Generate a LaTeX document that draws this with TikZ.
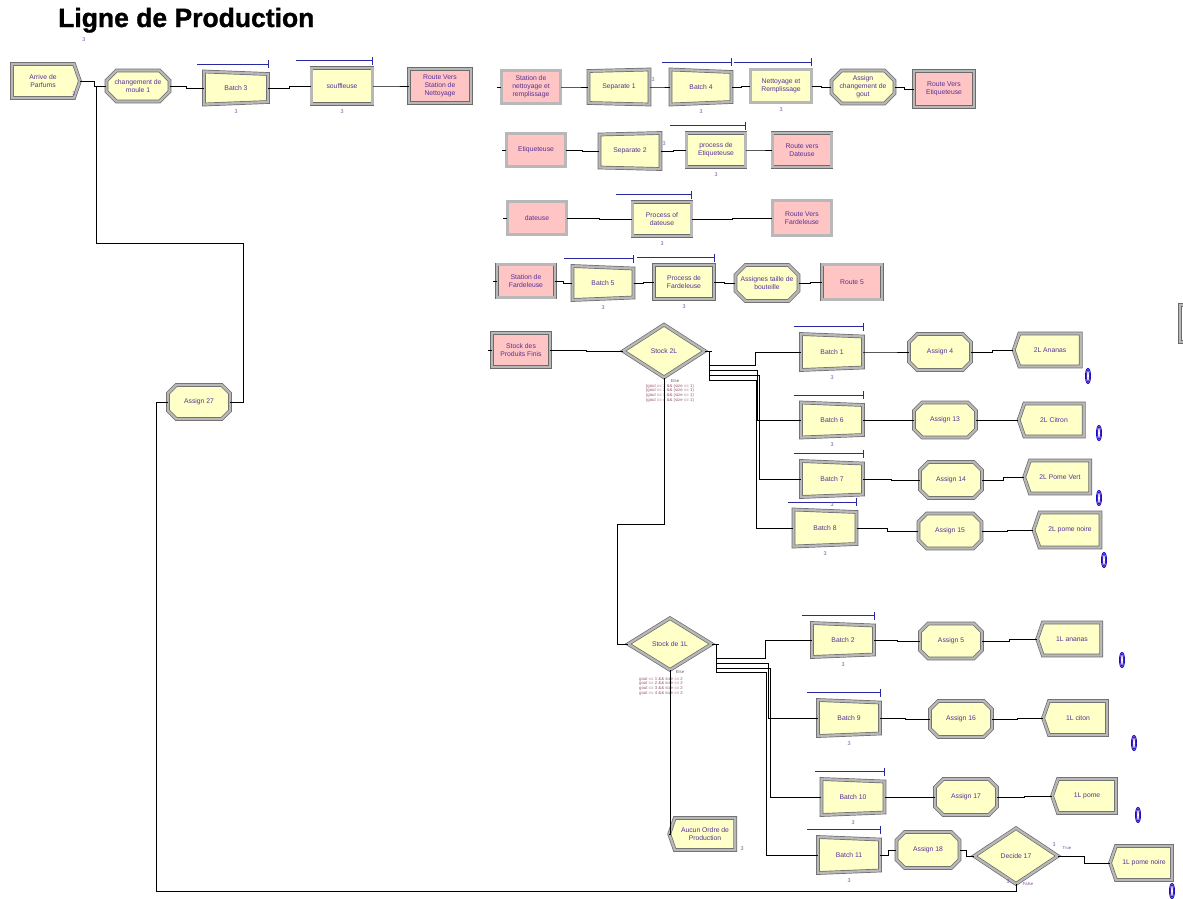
\documentclass[tikz,border=0pt]{standalone}
\usepackage{fontspec}
\setmainfont{Liberation Sans}
\newfontfamily\titlefont{Liberation Sans}[BoldFeatures={FakeBold=1.2}]
\usetikzlibrary{calc,shapes.geometric,shapes.misc,shapes.symbols}

\definecolor{yel}{RGB}{255,255,200}
\definecolor{rose}{RGB}{255,196,196}
\definecolor{lbltext}{RGB}{88,48,150}
\definecolor{cntcol}{RGB}{130,80,170}
\definecolor{qblue}{RGB}{40,40,160}
\definecolor{condcol}{RGB}{150,85,110}

\newcommand\lblfont{\fontsize{6.8}{8}\selectfont}
\newcommand\cntfont{\fontsize{5.4}{6}\selectfont}
\newcommand\condfont{\fontsize{4.3}{4.7}\selectfont}

\tikzset{
  frame/.style={draw=black!58, double=black!28, line width=0.7pt, double distance=2.3pt},
  lbl/.style={font=\lblfont, text=lbltext, align=center, inner sep=0pt},
  box/.style 2 args={minimum width=#1pt, minimum height=#2pt},
  proc/.style={rectangle, frame, fill=yel, lbl},
  stat/.style={rectangle, frame, fill=rose, lbl},
  asgn/.style={chamfered rectangle, chamfered rectangle xsep=5pt, chamfered rectangle ysep=5pt, frame, fill=yel, lbl},
  crt/.style={signal, signal to=east, signal pointer angle=142, frame, fill=yel, lbl},
  dsp/.style={signal, signal to=west, signal pointer angle=142, frame, fill=yel, lbl},
  dcd/.style={diamond, frame, fill=yel, lbl},
  cntn/.style={font=\cntfont, text=cntcol, inner sep=0pt},
  cond/.style={font=\condfont, text=condcol, inner sep=0pt, align=left},
  oval/.style={ellipse, draw=blue!80!black, line width=0.7pt, double=violet!60, double distance=0.5pt, minimum width=4pt, minimum height=14pt, inner sep=0pt},
  conn/.style={draw=black, line width=0.7pt},
  qline/.style={draw=qblue, line width=0.9pt},
  hstep/.style={to path={-| ($(\tikztostart)!0.5!(\tikztotarget)$) |- (\tikztotarget) \tikztonodes}},
}

% batch / separate block: left edge h tall, right edge shortened by #6 at both ends
\newcommand\trapnode[7]{%
  \draw[frame, fill=yel] ({#2-#4/2},{#3-#5/2}) -- ({#2+#4/2},{#3-#5/2+#6})
    -- ({#2+#4/2},{#3+#5/2-#6}) -- ({#2-#4/2},{#3+#5/2}) -- cycle;
  \node[lbl, box={#4}{#5}] (#1) at (#2,#3) {#7};}
% queue line above a block
\newcommand\queuebar[2]{%
  \draw[qline] ($(#1.north east)+(0,-7)$) -- ++(-#2,0);
  \draw[qline] ($(#1.north east)+(0,-11)$) -- ++(0,8);}
% counter under a block
\newcommand\cntbelow[1]{\node[cntn] (#1c) at ($(#1.south)+(0,7)$) {3};}

\begin{document}
\begin{tikzpicture}[x=1pt,y=-1pt]
\useasboundingbox (0,0) rectangle (1183,898);

\node[font=\titlefont\fontsize{26.5}{30}\selectfont\bfseries, anchor=base west, inner sep=0pt] (title) at (58,27) {Ligne de Production};
\node[cntn] (titlec) at (84,40) {3};

% ---- forming line
\node[crt, box={68}{34}] (arrive) at (43,81) {Arrive de\\Parfums};
\node[cntn] (arrivec) at (74,94) {3};
\node[asgn, box={63}{31}] (chg1) at (138,86) {changement de\\moule 1};
\trapnode{b3}{236}{88}{64}{33}{2.5}{Batch 3}
\node[proc, box={61}{36}] (souf) at (342,86) {souffleuse};
\node[stat, box={62}{34}] (rvsn) at (440,86) {Route Vers\\Station de\\Nettoyage};

% ---- cleaning and filling
\node[stat, box={59}{33}] (stnr) at (531,87) {Station de\\nettoyage et\\remplissage};
\trapnode{sep1}{619}{87}{61}{32}{-1.5}{Separate 1}
\node[cntn, text=qblue!70] (sep1c) at (653,80) {3};
\trapnode{b4}{701}{87}{61}{35}{2.5}{Batch 4}
\node[proc, box={61}{33}] (netr) at (781,86) {Nettoyage et\\Remplissage};
\node[asgn, box={63}{33}] (agout) at (863,87) {Assign\\changement de\\gout};
\node[stat, box={60}{36}] (rvetq) at (944,89) {Route Vers\\Etiqueteuse};

% ---- labelling
\node[stat, box={59}{33}] (etq) at (536,150) {Etiqueteuse};
\trapnode{sep2}{630}{151}{61}{33}{-1.5}{Separate 2}
\node[cntn, text=qblue!70] (sep2c) at (664,144) {3};
\node[proc, box={59}{34}] (petq) at (716,150) {process de\\Etiqueteuse};
\node[stat, box={59}{34}] (rvdat) at (802,150) {Route vers\\Dateuse};

% ---- dating
\node[stat, box={59}{33}] (dat) at (537,218) {dateuse};
\node[proc, box={59}{34}] (pdat) at (662,219) {Process of\\dateuse};
\node[stat, box={59}{35}] (rvfar) at (802,218) {Route Vers\\Fardeleuse};

% ---- wrapping
\node[stat, box={58}{33}] (stfar) at (526,281) {Station de\\Fardeleuse};
\trapnode{b5}{603}{283}{61}{34}{2.5}{Batch 5}
\node[proc, box={60}{34}] (pfar) at (684,282) {Process de\\Fardeleuse};
\node[asgn, box={63}{36}] (ataille) at (767,283) {Assignes taille de\\bouteille};
\node[stat, box={60}{35}] (r5) at (852,282) {Route 5};

% ---- finished goods, 2L
\node[stat, box={58}{34}] (stock) at (521,350) {Stock des\\Produits Finis};
\node[dcd, box={82}{53}] (s2) at (664,351) {Stock 2L};
\node[cntn, font=\condfont, text=black!60] (s2else) at (675,381) {Else};
\node[cond] (s2cond) at (670,393) {(gout == 1 \&\& (size == 1)\\(gout == 2 \&\& (size == 1)\\(gout == 3 \&\& (size == 1)\\(gout == 4 \&\& (size == 1)};

\trapnode{b1}{832}{352}{62}{36}{2.5}{Batch 1}
\node[asgn, box={62}{36}] (a4) at (940,352) {Assign 4};
\node[dsp, box={67}{33}] (d2ana) at (1050,350) {2L Ananas};
\node[oval] (o1) at (1088,376) {};

\trapnode{b6}{832}{420}{62}{35}{2.5}{Batch 6}
\node[asgn, box={62}{35}] (a13) at (945,420) {Assign 13};
\node[dsp, box={65}{33}] (d2cit) at (1054,420) {2L Citron};
\node[oval] (o2) at (1099,433) {};

\trapnode{b7}{832}{479}{62}{36}{2.5}{Batch 7}
\node[asgn, box={62}{36}] (a14) at (951,480) {Assign 14};
\node[dsp, box={66}{33}] (d2pv) at (1060,477) {2L Pome Vert};
\node[oval] (o3) at (1099,498) {};

\trapnode{b8}{825}{528}{63}{37}{2.5}{Batch 8}
\node[asgn, box={63}{35}] (a15) at (950,531) {Assign 15};
\node[dsp, box={67}{35}] (d2pn) at (1070,530) {2L pome noire};
\node[oval] (o4) at (1104,560) {};

% ---- 1L
\node[dcd, box={84}{52}] (s1) at (670,644) {Stock de 1L};
\node[cntn, font=\condfont, text=black!60] (s1else) at (680,672) {Else};
\node[cond] (s1cond) at (661,686) {gout == 1 \&\& size == 2\\gout == 2 \&\& size == 2\\gout == 3 \&\& size == 2\\gout == 4 \&\& size == 2};
\node[dsp, box={66}{32}] (aucun) at (705,834) {Aucun Ordre de\\Production};
\node[cntn] (aucunc) at (742,849) {3};

\trapnode{b2}{843}{640}{62}{34}{2.5}{Batch 2}
\node[asgn, box={62}{35}] (a5) at (951,641) {Assign 5};
\node[dsp, box={64}{33}] (d1ana) at (1072,639) {1L ananas};
\node[oval] (o5) at (1122,660) {};

\trapnode{b9}{849}{718}{62}{36}{2.5}{Batch 9}
\node[asgn, box={62}{36}] (a16) at (961,719) {Assign 16};
\node[dsp, box={64}{34}] (d1cit) at (1078,718) {1L citon};
\node[oval] (o6) at (1134,743) {};

\trapnode{b10}{853}{797}{63}{36}{2.5}{Batch 10}
\node[asgn, box={62}{36}] (a17) at (966,797) {Assign 17};
\node[dsp, box={64}{34}] (d1pome) at (1087,796) {1L pome};
\node[oval] (o7) at (1138,815) {};

\trapnode{b11}{849}{855}{62}{36}{2.5}{Batch 11}
\node[asgn, box={63}{36}] (a18) at (928,850) {Assign 18};
\node[dcd, box={84}{56}] (dec17) at (1016,856) {Decide 17};
\node[cntn] (dtc) at (1054,845) {3};
\node[cntn, font=\condfont] (dtrue) at (1067,848) {True};
\node[cntn] (dfc) at (1008,882) {3};
\node[cntn, font=\condfont] (dfalse) at (1028,884) {False};
\node[dsp, box={62}{34}] (d1pn) at (1144,863) {1L pome noire};
\node[oval] (o8) at (1172,891) {};

\node[asgn, box={62}{34}] (a27) at (199,402) {Assign 27};

% partial block at the right border
\draw[frame, fill=white] (1180,305) rectangle (1200,342);

% ---- queues and counters
\queuebar{b3}{71} \queuebar{souf}{77}
\queuebar{b4}{70} \queuebar{netr}{78}
\queuebar{petq}{76} \queuebar{pdat}{76}
\queuebar{b5}{70} \queuebar{pfar}{77}
\queuebar{b1}{69} \queuebar{b6}{69} \queuebar{b7}{69} \queuebar{b8}{69}
\queuebar{b2}{72} \queuebar{b9}{73} \queuebar{b10}{70} \queuebar{b11}{73}
\foreach \n in {b3,souf,b4,netr,petq,pdat,b5,pfar,b1,b6,b7,b8,b2,b9,b10,b11}{\cntbelow{\n}}

% ---- connectors
\coordinate (loopA) at (243,243);
\coordinate (loopB) at (96,243);
\coordinate (ret) at (156,891);
\coordinate (s2turn) at (617,524);

\draw[conn] (arrive.east) -- ++(14,0) |- (chg1.west);
\draw[conn] (a27.east) -| (loopA) -- (loopB) |- (chg1.west);
\draw[conn] (chg1.east) to[hstep] (b3.west);
\draw[conn] (b3.east) to[hstep] (souf.west);
\draw[conn] (souf.east) to[hstep] (rvsn.west);

\foreach \n in {stnr,etq,dat,stfar,stock}{\draw[conn] (\n.west) -- ++(-4,0);}
\draw[conn] (stnr.east) to[hstep] (sep1.west);
\draw[conn] (sep1.east) to[hstep] (b4.west);
\draw[conn] (b4.east) to[hstep] (netr.west);
\draw[conn] (netr.east) to[hstep] (agout.west);
\draw[conn] (agout.east) to[hstep] (rvetq.west);

\draw[conn] (etq.east) to[hstep] (sep2.west);
\draw[conn] (sep2.east) to[hstep] (petq.west);
\draw[conn] (petq.east) to[hstep] (rvdat.west);

\draw[conn] (dat.east) to[hstep] (pdat.west);
\draw[conn] (pdat.east) to[hstep] (rvfar.west);

\draw[conn] (stfar.east) to[hstep] (b5.west);
\draw[conn] (b5.east) to[hstep] (pfar.west);
\draw[conn] (pfar.east) to[hstep] (ataille.west);
\draw[conn] (ataille.east) to[hstep] (r5.west);

\draw[conn] (stock.east) to[hstep] (s2.west);

% Stock 2L exits
\draw[conn] (s2.east) -- ++(7,0);
\draw[conn] ($(s2.east)+(4,0)$) -- ++(0,29);
\coordinate (s2e1) at ($(s2.east)+(4,14)$);
\coordinate (s2e2) at ($(s2.east)+(4,19)$);
\coordinate (s2e3) at ($(s2.east)+(4,24)$);
\coordinate (s2e4) at ($(s2.east)+(4,29)$);
\draw[conn] (s2e1) -- ++(46,0) |- (b1.west);
\draw[conn] (s2e2) -- ++(48,0) |- (b6.west);
\draw[conn] (s2e3) -- ++(50,0) |- (b7.west);
\draw[conn] (s2e4) -- ++(47,0) |- (b8.west);
\draw[conn] (s2.south) |- (s2turn) |- (s1.west);

\draw[conn] (b1.east) to[hstep] (a4.west);
\draw[conn] (a4.east) to[hstep] (d2ana.west);
\draw[conn] (b6.east) to[hstep] (a13.west);
\draw[conn] (a13.east) to[hstep] (d2cit.west);
\draw[conn] (b7.east) to[hstep] (a14.west);
\draw[conn] (a14.east) to[hstep] (d2pv.west);
\draw[conn] (b8.east) to[hstep] (a15.west);
\draw[conn] (a15.east) to[hstep] (d2pn.west);

% Stock de 1L exits
\draw[conn] (s1.east) -- ++(7,0);
\draw[conn] ($(s1.east)+(4,0)$) -- ++(0,28);
\coordinate (s1e1) at ($(s1.east)+(4,14)$);
\coordinate (s1e2) at ($(s1.east)+(4,19)$);
\coordinate (s1e3) at ($(s1.east)+(4,24)$);
\coordinate (s1e4) at ($(s1.east)+(4,28)$);
\draw[conn] (s1e1) -- ++(49,0) |- (b2.west);
\draw[conn] (s1e2) -- ++(52,0) |- (b9.west);
\draw[conn] (s1e3) -- ++(54,0) |- (b10.west);
\draw[conn] (s1e4) -- ++(50,0) |- (b11.west);
\draw[conn] (s1.south) |- (aucun.west);

\draw[conn] (b2.east) to[hstep] (a5.west);
\draw[conn] (a5.east) to[hstep] (d1ana.west);
\draw[conn] (b9.east) to[hstep] (a16.west);
\draw[conn] (a16.east) to[hstep] (d1cit.west);
\draw[conn] (b10.east) to[hstep] (a17.west);
\draw[conn] (a17.east) to[hstep] (d1pome.west);
\draw[conn] (b11.east) to[hstep] (a18.west);
\draw[conn] (a18.east) to[hstep] (dec17.west);
\draw[conn] (dec17.east) to[hstep] (d1pn.west);
\draw[conn] (dec17.south) |- (ret) |- (a27.west);
\end{tikzpicture}
\end{document}
